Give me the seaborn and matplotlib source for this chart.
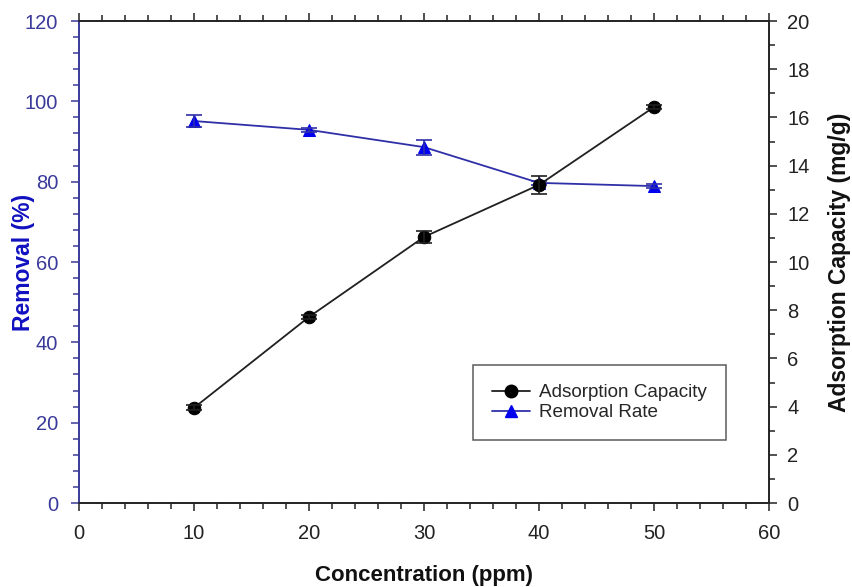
import matplotlib
matplotlib.use("Agg")
import matplotlib.pyplot as plt
from matplotlib.ticker import MultipleLocator
from matplotlib.lines import Line2D
import seaborn as sns
import pandas as pd

concentration = [10, 20, 30, 40, 50]
removal = [95.1, 92.9, 88.6, 79.7, 78.9]
removal_err = [1.5, 0.5, 1.9, 0.5, 0.5]
capacity = [3.95, 7.72, 11.04, 13.2, 16.43]
capacity_err = [0.1, 0.1, 0.25, 0.37, 0.1]

sns.set_style("ticks")
plt.rcParams['font.family'] = ['Liberation Sans', 'DejaVu Sans']

df = pd.DataFrame({"conc": concentration, "removal": removal, "capacity": capacity})

fig = plt.figure(figsize=(8.52, 5.87), dpi=100)
ax = fig.add_axes([0.0927, 0.1431, 0.8099, 0.8211])
ax2 = ax.twinx()

blue_line = "#2f2fa8"
blue_mark = "#0000ee"
blue_txt = "#3a3a9a"

sns.lineplot(data=df, x="conc", y="removal", ax=ax, color=blue_line, lw=1.3,
             marker="^", markersize=9, markerfacecolor=blue_mark,
             markeredgecolor=blue_mark)
ax.errorbar(concentration, removal, yerr=removal_err, fmt="none",
            ecolor=blue_line, elinewidth=1.2, capsize=6, capthick=1.2)

sns.lineplot(data=df, x="conc", y="capacity", ax=ax2, color="#202020", lw=1.3,
             marker="o", markersize=9, markerfacecolor="black",
             markeredgecolor="black")
ax2.errorbar(concentration, capacity, yerr=capacity_err, fmt="none",
             ecolor="#202020", elinewidth=1.2, capsize=6, capthick=1.2)

ax.set_xlim(0, 60)
ax.set_ylim(0, 120)
ax2.set_ylim(0, 20)
ax.xaxis.set_major_locator(MultipleLocator(10))
ax.xaxis.set_minor_locator(MultipleLocator(2))
ax.yaxis.set_major_locator(MultipleLocator(20))
ax.yaxis.set_minor_locator(MultipleLocator(4))
ax2.yaxis.set_major_locator(MultipleLocator(2))
ax2.yaxis.set_minor_locator(MultipleLocator(1))

for a in (ax, ax2):
    for s in a.spines.values():
        s.set_visible(True)
        s.set_linewidth(1.2)
        s.set_color("#222222")
ax2.spines["left"].set_color(blue_txt)
ax.spines["left"].set_color(blue_txt)

ax.tick_params(axis="x", which="both", direction="out", top=True, colors="#222222",
               labelsize=14.5, width=1.1)
ax.tick_params(axis="x", which="major", length=6, pad=9)
ax.tick_params(axis="x", which="minor", length=4)
ax.tick_params(axis="y", which="both", direction="out", color=blue_txt,
               labelcolor=blue_txt, labelsize=14.5, width=1.1)
ax.tick_params(axis="y", which="major", length=6, pad=9)
ax.tick_params(axis="y", which="minor", length=4)
ax2.tick_params(axis="y", which="both", direction="out", colors="#222222",
                labelsize=14.5, width=1.1)
ax2.tick_params(axis="y", which="major", length=6, pad=7)
ax2.tick_params(axis="y", which="minor", length=4)

ax.set_xlabel("Concentration (ppm)", fontsize=16, fontweight="bold",
              color="#111111")
ax.set_ylabel("Removal (%)", fontsize=16.5, fontweight="bold", color="#1010c0")
ax2.set_ylabel("Adsorption Capacity (mg/g)", fontsize=16.5, fontweight="bold",
               color="#111111")
ax.xaxis.set_label_coords(0.5, -0.150)
ax.yaxis.set_label_coords(-0.080, 0.5)
ax2.yaxis.set_label_coords(1.102, 0.5)
ax.xaxis.label.set_va("center")
ax.yaxis.label.set_va("center")
ax2.yaxis.label.set_va("center")

handles = [
    Line2D([], [], color="#202020", lw=1.3, marker="o", markersize=9,
           markerfacecolor="black", markeredgecolor="black"),
    Line2D([], [], color=blue_line, lw=1.3, marker="^", markersize=9,
           markerfacecolor=blue_mark, markeredgecolor=blue_mark),
]
leg = ax2.legend(handles, ["Adsorption Capacity", "Removal Rate"], loc="upper left",
                 bbox_to_anchor=(0.571, 0.286), fontsize=13.6, frameon=True,
                 fancybox=False, edgecolor="#333333", handlelength=2.0,
                 borderpad=1.0, labelspacing=0.15, handletextpad=0.5,
                 borderaxespad=0)
leg.get_frame().set_linewidth(1.1)

fig.savefig("out.png", dpi=100)
